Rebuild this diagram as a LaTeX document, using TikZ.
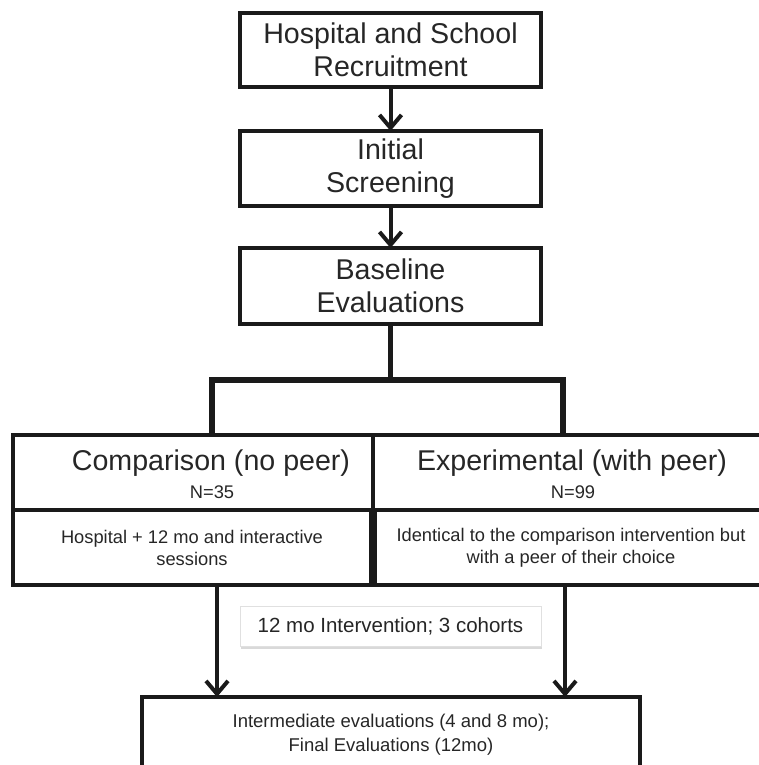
\documentclass[tikz,border=0pt]{standalone}
\usepackage{fontspec}
\setmainfont{Liberation Sans}
\usetikzlibrary{arrows.meta,shadows}
\definecolor{ink}{HTML}{1A1A1A}
\definecolor{txt}{HTML}{262626}
\tikzset{
  box/.style={draw=ink,line width=4pt,rectangle,inner sep=0pt,outer sep=0pt,align=center,text=txt},
  big/.style={font=\fontsize{28.6}{33}\selectfont,text=txt},
  small/.style={font=\fontsize{18.3}{22}\selectfont,text=txt},
  arr/.style={draw=ink,line width=4pt,-{Straight Barb[length=13pt,width=22pt]}},
  bracket/.style={draw=ink,line width=5.5pt},
}

\begin{document}
\begin{tikzpicture}[x=1pt,y=-1pt]
\useasboundingbox (0,0) rectangle (758,765);

\node[box,big,minimum width=301pt,minimum height=74pt] (recruit) at (390.5,50) {Hospital and School\\Recruitment};
\node[box,big,minimum width=301pt,minimum height=75pt] (screen) at (390.5,168.5) {Initial\\Screening};
\node[box,big,minimum width=301pt,minimum height=76pt] (baseline) at (390.5,286) {Baseline\\Evaluations};

\draw[arr] (recruit) -- (screen);
\draw[arr] (screen) -- (baseline);

\node[box,minimum width=360pt,minimum height=75pt] (comptop) at (193,472.5) {};
\node[box,minimum width=394pt,minimum height=75pt] (exptop) at (570,472.5) {};
\node[big] (compname) at (211,463) {Comparison (no peer)};
\node[small] (compn) at (212,492) {N=35};
\node[big] (expname) at (572,463) {Experimental (with peer)};
\node[small] (expn) at (573,492) {N=99};

\node[box,small,minimum width=358pt,minimum height=75pt] (compdesc) at (192,547.5) {Hospital + 12 mo and interactive\\sessions};
\node[box,small,minimum width=392pt,minimum height=75pt] (expdesc) at (571,547.5) {Identical to the comparison intervention but\\with a peer of their choice};

\coordinate (split) at (390.5,380);
\draw[bracket] (baseline.south) -- (split);
\draw[bracket] ([xshift=19pt]comptop.north) -- ++(0,-55) -| ([xshift=-7pt]exptop.north);

\node[box,draw=black!12,line width=0.6pt,fill=white,drop shadow={shadow xshift=1pt,shadow yshift=-2.5pt,opacity=0.3},minimum width=301pt,minimum height=40pt,font=\fontsize{20.5}{24}\selectfont] (interv) at (390.5,626) {12 mo Intervention; 3 cohorts};

\node[box,font=\fontsize{18.5}{24}\selectfont,minimum width=498pt,minimum height=75pt] (final) at (391,734.5) {Intermediate evaluations (4 and 8 mo);\\Final Evaluations (12mo)};

\draw[arr] ([xshift=25pt]compdesc.south) -- ([xshift=25pt]compdesc.south |- final.north);
\draw[arr] ([xshift=-6pt]expdesc.south) -- ([xshift=-6pt]expdesc.south |- final.north);
\end{tikzpicture}
\end{document}
